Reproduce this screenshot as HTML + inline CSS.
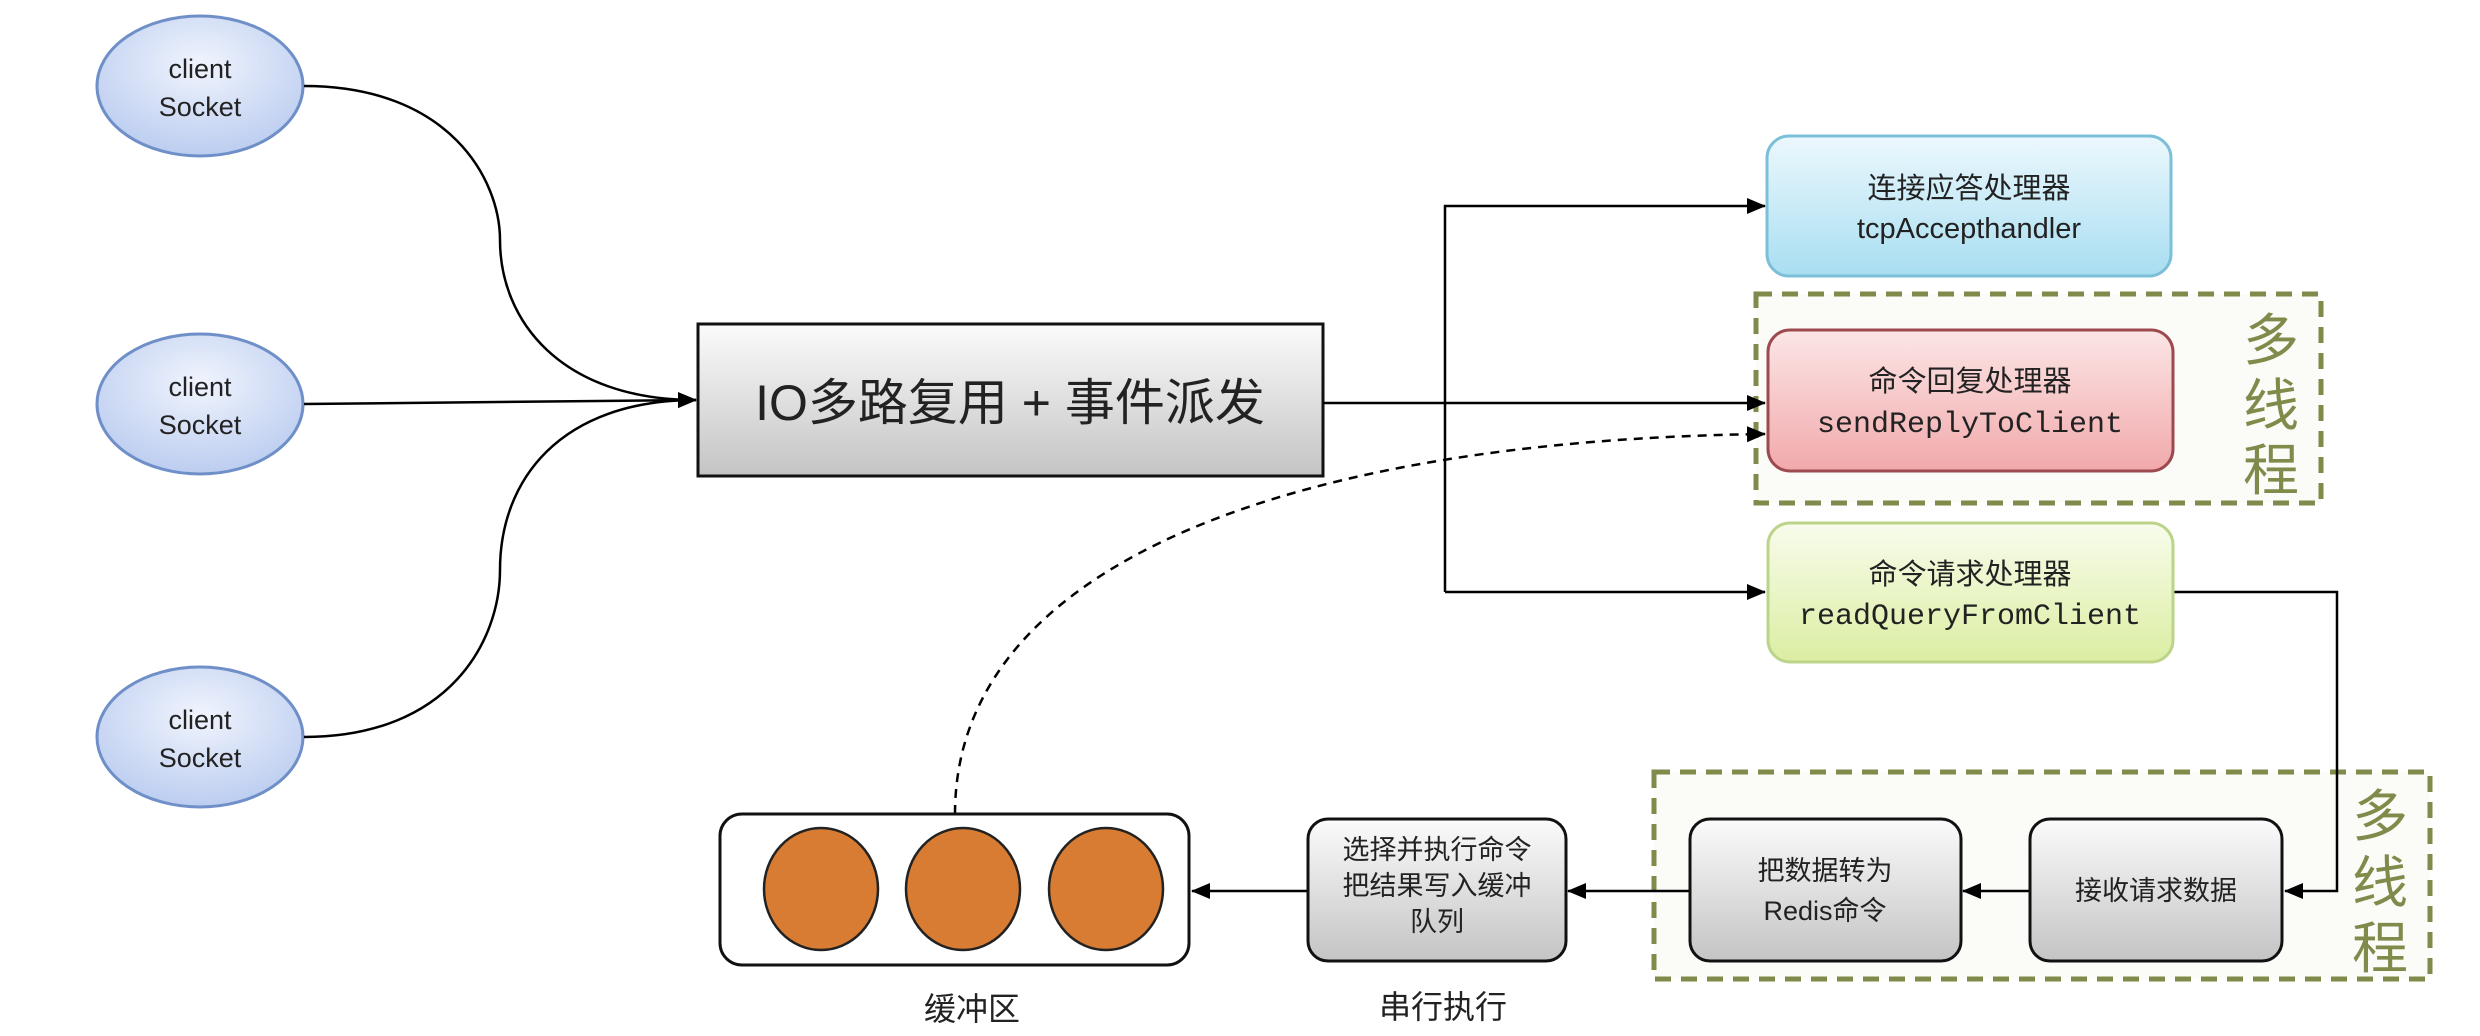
<!DOCTYPE html>
<html><head><meta charset="utf-8"><style>
html,body{margin:0;padding:0;background:#fff;}
svg{display:block;}
text{font-family:"Liberation Sans","Noto Sans CJK SC",sans-serif;fill:#222;}
.m{font-family:"Liberation Mono","Noto Sans CJK SC",monospace;}
</style></head><body>
<svg width="2480" height="1036" viewBox="0 0 2480 1036" xmlns="http://www.w3.org/2000/svg">
<defs>
<radialGradient id="ell" cx="50%" cy="35%" r="65%"><stop offset="0" stop-color="#f0f4fd"/><stop offset="1" stop-color="#bccdf0"/></radialGradient>
<linearGradient id="gray" x1="0" y1="0" x2="0" y2="1"><stop offset="0" stop-color="#fbfbfb"/><stop offset="1" stop-color="#c4c4c4"/></linearGradient>
<linearGradient id="blue" x1="0" y1="0" x2="0" y2="1"><stop offset="0" stop-color="#ecf8fd"/><stop offset="1" stop-color="#a8def1"/></linearGradient>
<linearGradient id="red" x1="0" y1="0" x2="0" y2="1"><stop offset="0" stop-color="#fce6e6"/><stop offset="1" stop-color="#f1a9ab"/></linearGradient>
<linearGradient id="grn" x1="0" y1="0" x2="0" y2="1"><stop offset="0" stop-color="#f8fcec"/><stop offset="1" stop-color="#dbeea2"/></linearGradient>
<marker id="ar2" markerWidth="20" markerHeight="20" refX="18" refY="10" orient="auto" markerUnits="userSpaceOnUse"><path d="M0,2 L19,10 L0,18 z" fill="#000"/></marker>
</defs>

<!-- dashed green groups -->
<rect x="1756" y="294" width="565" height="209" fill="#fbfbf8" stroke="#7f8b4a" stroke-width="5" stroke-dasharray="16,10"/>
<rect x="1654" y="772" width="776" height="207" fill="#fbfbf8" stroke="#7f8b4a" stroke-width="5" stroke-dasharray="16,10"/>
<g font-size="56" text-anchor="middle">
<text x="2271" y="360" style="fill:#7f8b4a">多</text>
<text x="2271" y="425" style="fill:#7f8b4a">线</text>
<text x="2271" y="490" style="fill:#7f8b4a">程</text>
<text x="2380" y="836" style="fill:#7f8b4a">多</text>
<text x="2380" y="902" style="fill:#7f8b4a">线</text>
<text x="2380" y="968" style="fill:#7f8b4a">程</text>
</g>

<!-- ellipses -->
<g stroke="#6f8fc8" stroke-width="3" fill="url(#ell)">
<ellipse cx="200" cy="86" rx="103" ry="70"/>
<ellipse cx="200" cy="404" rx="103" ry="70"/>
<ellipse cx="200" cy="737" rx="103" ry="70"/>
</g>
<g font-size="27" text-anchor="middle">
<text x="200" y="78">client</text><text x="200" y="116">Socket</text>
<text x="200" y="396">client</text><text x="200" y="434">Socket</text>
<text x="200" y="729">client</text><text x="200" y="767">Socket</text>
</g>

<!-- curves -->
<g fill="none" stroke="#000" stroke-width="2.5">
<path d="M304,86 C450,86 500,180 500,240 C500,320 560,400 696,400" marker-end="url(#ar2)"/>
<path d="M304,404 L696,400" marker-end="url(#ar2)"/>
<path d="M304,737 C450,737 500,640 500,570 C500,480 560,400 696,400"/>
</g>

<!-- IO box -->
<rect x="698" y="324" width="625" height="152" fill="url(#gray)" stroke="#111" stroke-width="3"/>
<text x="1010" y="420" font-size="50" text-anchor="middle">IO多路复用 + 事件派发</text>

<!-- connectors -->
<g fill="none" stroke="#000" stroke-width="2.5">
<path d="M1445,592 L1445,206 L1765,206" marker-end="url(#ar2)"/>
<path d="M1445,592 L1765,592" marker-end="url(#ar2)"/>
<path d="M1323,403 L1765,403" marker-end="url(#ar2)"/>
<path d="M2173,592 L2337,592 L2337,891 L2285,891" marker-end="url(#ar2)"/>
<path d="M2030,891 L1963,891" marker-end="url(#ar2)"/>
<path d="M1690,891 L1568,891" marker-end="url(#ar2)"/>
<path d="M1308,891 L1192,891" marker-end="url(#ar2)"/>
<path d="M955,814 C955,560 1300,440 1765,434" stroke-dasharray="9,7" marker-end="url(#ar2)"/>
</g>

<!-- handler boxes -->
<rect x="1767" y="136" width="404" height="140" rx="22" fill="url(#blue)" stroke="#7cbfd8" stroke-width="3"/>
<text x="1969" y="198" font-size="29" text-anchor="middle">连接应答处理器</text>
<text x="1969" y="238" font-size="29" text-anchor="middle">tcpAccepthandler</text>

<rect x="1768" y="330" width="405" height="141" rx="22" fill="url(#red)" stroke="#9d4a4f" stroke-width="3"/>
<text x="1970" y="391" font-size="29" text-anchor="middle">命令回复处理器</text>
<text x="1970" y="432" font-size="30" class="m" text-anchor="middle">sendReplyToClient</text>

<rect x="1768" y="523" width="405" height="139" rx="22" fill="url(#grn)" stroke="#bcd48a" stroke-width="3"/>
<text x="1970" y="584" font-size="29" text-anchor="middle">命令请求处理器</text>
<text x="1970" y="624" font-size="30" class="m" text-anchor="middle">readQueryFromClient</text>

<!-- lower gray boxes -->
<g fill="url(#gray)" stroke="#111" stroke-width="3">
<rect x="2030" y="819" width="252" height="142" rx="20"/>
<rect x="1690" y="819" width="271" height="142" rx="20"/>
<rect x="1308" y="819" width="258" height="142" rx="20"/>
</g>
<g font-size="27" text-anchor="middle">
<text x="2156" y="900">接收请求数据</text>
<text x="1825" y="880">把数据转为</text><text x="1825" y="920">Redis命令</text>
<text x="1437" y="859">选择并执行命令</text><text x="1437" y="895">把结果写入缓冲</text><text x="1437" y="931">队列</text>
</g>
<text x="1443" y="1018" font-size="32" text-anchor="middle">串行执行</text>

<!-- buffer -->
<rect x="720" y="814" width="469" height="151" rx="22" fill="#fff" stroke="#111" stroke-width="3"/>
<g fill="#d77c32" stroke="#222" stroke-width="2.5">
<ellipse cx="821" cy="889" rx="57" ry="61"/>
<ellipse cx="963" cy="889" rx="57" ry="61"/>
<ellipse cx="1106" cy="889" rx="57" ry="61"/>
</g>
<text x="972" y="1020" font-size="32" text-anchor="middle">缓冲区</text>
</svg>
</body></html>
